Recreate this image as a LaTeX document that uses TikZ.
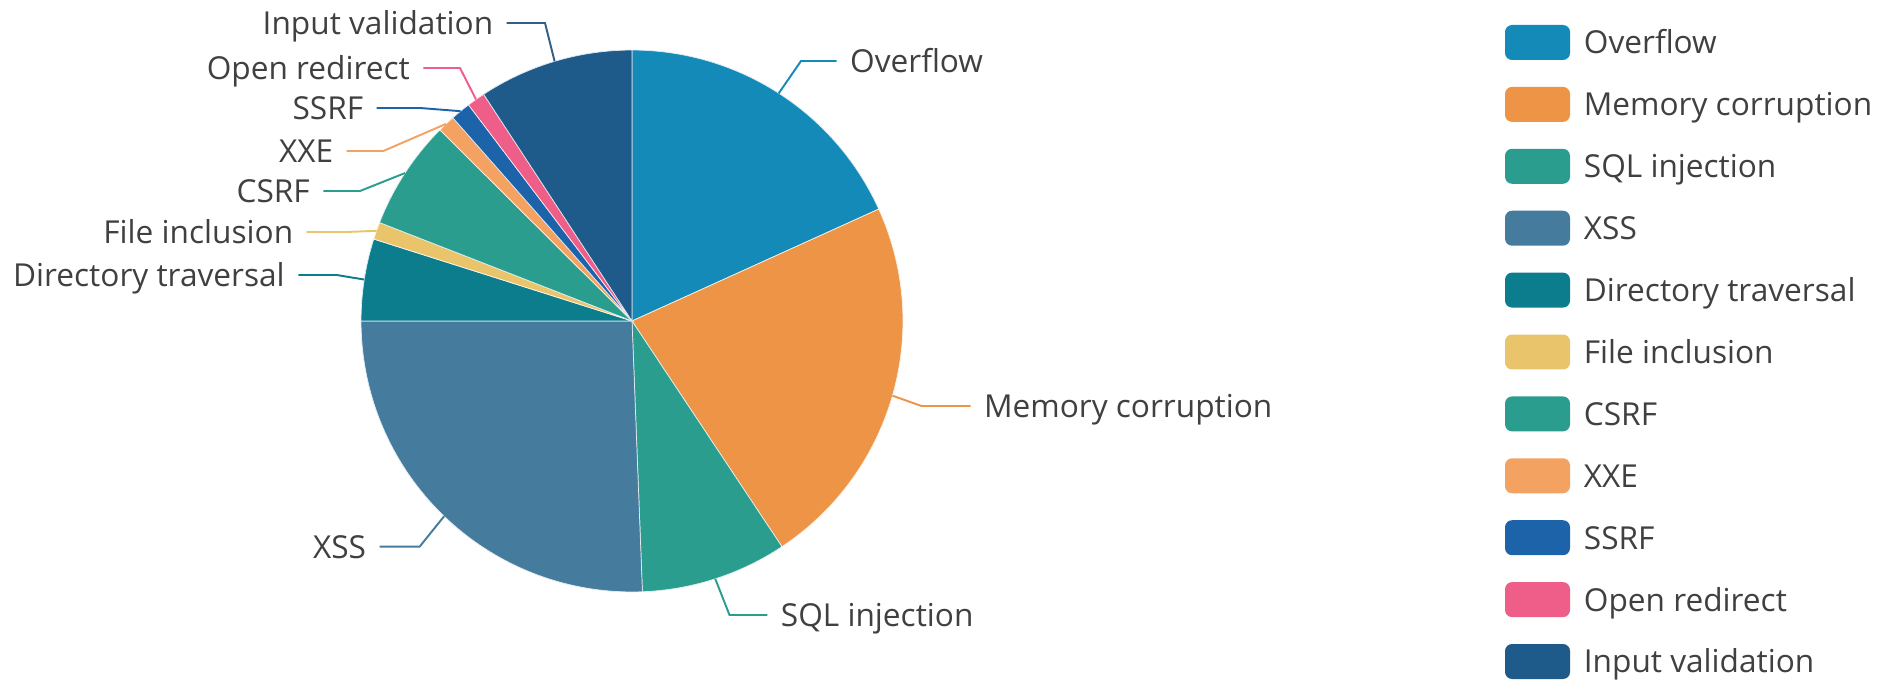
\documentclass[tikz,border=0pt]{standalone}
\usepackage{fontspec}
\setmainfont{Open Sans}
\usetikzlibrary{calc}

\definecolor{cOvf}{HTML}{138AB7}
\definecolor{cMem}{HTML}{EE9447}
\definecolor{cSql}{HTML}{2A9D8F}
\definecolor{cXss}{HTML}{457B9D}
\definecolor{cDir}{HTML}{0B7D8C}
\definecolor{cFile}{HTML}{E9C46A}
\definecolor{cCsrf}{HTML}{2A9D8F}
\definecolor{cXxe}{HTML}{F4A261}
\definecolor{cSsrf}{HTML}{1D63AA}
\definecolor{cOpen}{HTML}{EE5E88}
\definecolor{cInput}{HTML}{1E5A8A}
\definecolor{txtgray}{HTML}{404040}

\tikzset{
  lbl/.style={inner xsep=7.5pt, inner ysep=0pt, text height=13pt, text depth=0pt,
    text=txtgray, font=\fontsize{18}{22}\selectfont},
  lead/.style={line width=1.1pt},
  swatch/.style={rounded corners=4pt, minimum width=1.3cm, minimum height=0.7cm, inner sep=0pt}
}

\begin{document}
\begin{tikzpicture}[x=0.02cm, y=0.02cm]
    \useasboundingbox (0,0) rectangle (1892,680);
    \def\pr{5.42cm}
    \coordinate (pc) at (632,359);

    \foreach \a/\b/\c in {90/24.4/cOvf, 24.4/-56.4/cMem, -56.4/-87.8/cSql, -87.8/-180/cXss,
        180/162.4/cDir, 162.4/158.7/cFile, 158.7/135.15/cCsrf, 135.15/131.4/cXxe,
        131.4/127.1/cSsrf, 127.1/123.2/cOpen, 123.2/90/cInput}
        \filldraw[fill=\c, draw=white!85!\c, line width=0.4pt]
            (pc) -- ($(pc)+(\a:\pr)$) arc[start angle=\a, end angle=\b, radius=\pr] -- cycle;

    % leader lines, right side
    \coordinate (eOvf) at ($(pc)+(57.2:\pr)$);
    \coordinate (bOvf) at (801,619);
    \node[lbl, anchor=west] (lOvf) at (836.6,619) {Overflow};
    \draw[lead, cOvf] (eOvf) -- (bOvf) -- (lOvf.west);

    \coordinate (eMem) at ($(pc)+(-16:\pr)$);
    \coordinate (bMem) at (921.4,274);
    \node[lbl, anchor=west] (lMem) at (970.5,274) {Memory corruption};
    \draw[lead, cMem] (eMem) -- (bMem) -- (lMem.west);

    \coordinate (eSql) at ($(pc)+(-72.1:\pr)$);
    \coordinate (bSql) at (729.5,65);
    \node[lbl, anchor=west] (lSql) at (767.4,65) {SQL injection};
    \draw[lead, cSql] (eSql) -- (bSql) -- (lSql.west);

    % leader lines, left side
    \coordinate (eXss) at ($(pc)+(226.1:\pr)$);
    \coordinate (bXss) at (419.6,133.3);
    \node[lbl, anchor=east] (lXss) at (379.5,133.3) {XSS};
    \draw[lead, cXss] (eXss) -- (bXss) -- (lXss.east);

    \coordinate (eDir) at ($(pc)+(171.2:\pr)$);
    \coordinate (bDir) at (336.7,405);
    \node[lbl, anchor=east] (lDir) at (298.3,405) {Directory traversal};
    \draw[lead, cDir] (eDir) -- (bDir) -- (lDir.east);

    \coordinate (eFile) at ($(pc)+(160.55:\pr)$);
    \coordinate (bFile) at (346.7,448);
    \node[lbl, anchor=east] (lFile) at (306.7,448) {File inclusion};
    \draw[lead, cFile] (eFile) -- (bFile) -- (lFile.east);

    \coordinate (eCsrf) at ($(pc)+(146.9:\pr)$);
    \coordinate (bCsrf) at (360,489);
    \node[lbl, anchor=east] (lCsrf) at (323.3,489) {CSRF};
    \draw[lead, cCsrf] (eCsrf) -- (bCsrf) -- (lCsrf.east);

    \coordinate (eXxe) at ($(pc)+(133.3:\pr)$);
    \coordinate (bXxe) at (383.3,529);
    \node[lbl, anchor=east] (lXxe) at (346.7,529) {XXE};
    \draw[lead, cXxe] (eXxe) -- (bXxe) -- (lXxe.east);

    \coordinate (eSsrf) at ($(pc)+(129.25:\pr)$);
    \coordinate (bSsrf) at (420,572);
    \node[lbl, anchor=east] (lSsrf) at (376.7,572) {SSRF};
    \draw[lead, cSsrf] (eSsrf) -- (bSsrf) -- (lSsrf.east);

    \coordinate (eOpen) at ($(pc)+(125.15:\pr)$);
    \coordinate (bOpen) at (460,612);
    \node[lbl, anchor=east] (lOpen) at (423.3,612) {Open redirect};
    \draw[lead, cOpen] (eOpen) -- (bOpen) -- (lOpen.east);

    \coordinate (eInput) at ($(pc)+(106.6:\pr)$);
    \coordinate (bInput) at (545,657);
    \node[lbl, anchor=east] (lInput) at (506.7,657) {Input validation};
    \draw[lead, cInput!80!gray] (eInput) -- (bInput) -- (lInput.east);

    % legend
    \foreach \c/\t [count=\i from 0] in {cOvf/Overflow, cMem/Memory corruption, cSql/SQL injection,
        cXss/XSS, cDir/Directory traversal, cFile/File inclusion, cCsrf/CSRF, cXxe/XXE,
        cSsrf/SSRF, cOpen/Open redirect, cInput/Input validation} {
        \node[swatch, fill=\c] (sw\i) at (1537.5,{637.5-61.9*\i}) {};
        \node[lbl, anchor=west] (lg\i) at (sw\i.east) {\t};
    }
\end{tikzpicture}
\end{document}
